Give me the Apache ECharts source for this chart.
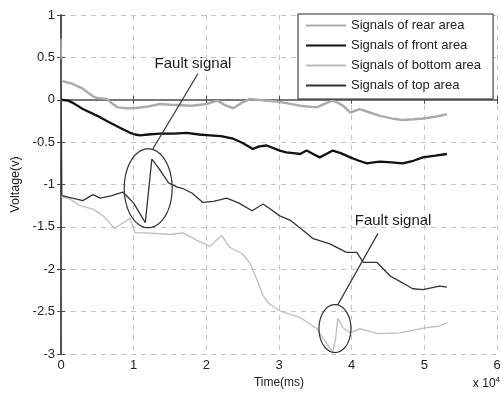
<!DOCTYPE html>
<html>
<head>
<meta charset="utf-8">
<script src="https://cdn.jsdelivr.net/npm/echarts@6/dist/echarts.min.js"></script>
<style>
  html, body { margin: 0; padding: 0; background: #fff; }
  #chart { width: 504px; height: 398px; }
</style>
</head>
<body>
<div id="chart"></div>
<script>
// signal traces, [time (x 10^4 ms), voltage]
const rearArea = [
  [0.02, 0.22], [0.15, 0.19], [0.3, 0.13], [0.44, 0.04], [0.5, 0.02], [0.63, 0.01], [0.7, -0.04],
  [0.78, -0.09], [0.9, -0.1], [1.0, -0.1], [1.2, -0.08], [1.36, -0.05], [1.5, -0.06], [1.8, -0.07],
  [2.0, -0.05], [2.15, -0.01], [2.25, -0.06], [2.37, -0.1], [2.5, -0.03], [2.6, 0.01], [2.8, -0.01],
  [2.97, -0.02], [3.1, -0.04], [3.29, -0.07], [3.52, -0.09], [3.65, -0.04], [3.74, -0.01], [3.82, -0.04],
  [3.88, -0.07], [3.98, -0.15], [4.11, -0.11], [4.25, -0.15], [4.39, -0.19], [4.55, -0.22], [4.7, -0.24],
  [4.85, -0.23], [4.98, -0.22], [5.15, -0.2], [5.31, -0.17]
]
const frontArea = [
  [0.0, 0.0], [0.02, 0.01], [0.1, -0.01], [0.17, -0.04], [0.3, -0.11], [0.5, -0.19], [0.65, -0.26],
  [0.81, -0.33], [0.95, -0.39], [1.02, -0.41], [1.09, -0.42], [1.2, -0.41], [1.36, -0.4], [1.55, -0.4],
  [1.73, -0.39], [1.9, -0.41], [2.05, -0.42], [2.2, -0.43], [2.37, -0.46], [2.5, -0.51], [2.64, -0.58],
  [2.73, -0.55], [2.83, -0.54], [2.95, -0.58], [3.01, -0.6], [3.1, -0.62], [3.2, -0.63], [3.29, -0.64],
  [3.38, -0.6], [3.47, -0.64], [3.56, -0.68], [3.65, -0.64], [3.74, -0.6], [3.85, -0.63], [3.98, -0.68],
  [4.1, -0.72], [4.21, -0.75], [4.3, -0.74], [4.39, -0.73], [4.55, -0.74], [4.7, -0.75], [4.85, -0.72],
  [4.98, -0.68], [5.15, -0.66], [5.31, -0.64]
]
const bottomArea = [
  [0, 0.72], [0.01, -1.15], [0.12, -1.17], [0.26, -1.25], [0.44, -1.29], [0.58, -1.37], [0.74, -1.52],
  [0.84, -1.46], [0.95, -1.4], [1.02, -1.57], [1.18, -1.57], [1.5, -1.59], [1.68, -1.57], [1.87, -1.66],
  [2.05, -1.73], [2.21, -1.6], [2.32, -1.74], [2.5, -1.82], [2.6, -1.93], [2.7, -2.13], [2.78, -2.31],
  [2.87, -2.41], [3.01, -2.49], [3.29, -2.57], [3.52, -2.7], [3.66, -2.88], [3.74, -2.98], [3.78, -2.81],
  [3.81, -2.58], [3.88, -2.69], [3.98, -2.75], [4.11, -2.7], [4.2, -2.72], [4.35, -2.76], [4.66, -2.75],
  [5.03, -2.69], [5.21, -2.67], [5.31, -2.63]
]
const topArea = [
  [0, 0.48], [0.01, -1.13], [0.1, -1.15], [0.3, -1.19], [0.44, -1.12], [0.54, -1.16], [0.7, -1.13],
  [0.85, -1.09], [0.9, -1.13], [1.0, -1.22], [1.09, -1.35], [1.16, -1.45], [1.25, -0.7], [1.34, -0.8],
  [1.48, -0.98], [1.6, -1.03], [1.68, -1.05], [1.8, -1.1], [1.95, -1.21], [2.1, -1.2], [2.28, -1.16],
  [2.45, -1.22], [2.63, -1.31], [2.78, -1.23], [2.9, -1.3], [3.01, -1.37], [3.15, -1.42], [3.33, -1.54],
  [3.47, -1.64], [3.7, -1.7], [3.93, -1.8], [4.07, -1.8], [4.16, -1.92], [4.35, -1.92], [4.53, -2.08],
  [4.7, -2.16], [4.84, -2.23], [4.98, -2.24], [5.21, -2.2], [5.31, -2.21]
]
const seriesNames = ['Signals of rear area', 'Signals of front area', 'Signals of bottom area', 'Signals of top area']

// 标注：椭圆 + 引线 + 文字 (data coords)
const faultMarks = [
  { cx: 1.2, cy: -1.044, rx: 0.33, ry: 0.466, from: [1.265, -0.578], to: [1.884, 0.307], label: [1.816, 0.425] },
  { cx: 3.77, cy: -2.7, rx: 0.22, ry: 0.283, from: [3.81, -2.417], to: [4.36, -1.58], label: [4.57, -1.427] }
]

const chart = echarts.init(document.getElementById('chart'))

const FONT = 'Liberation Sans, Arial, sans-serif'
const axisLine = { show: true, lineStyle: { color: '#4a4a4a', width: 1.5 } }
const splitLine = { show: true, lineStyle: { color: '#c4c4c4', type: [5, 5], width: 1 } }
const labelStyle = { color: '#222', fontSize: 13, fontFamily: FONT }

const mkSeries = (name, data, color, width) => ({
  name,
  type: 'line',
  data,
  symbol: 'none',
  lineStyle: { color, width },
  itemStyle: { color },
  z: 3
})

chart.setOption({
  animation: false,
  backgroundColor: '#fff',
  grid: { left: 61, right: 7, top: 15, bottom: 44 },
  legend: {
    orient: 'vertical',
    left: 298,
    top: 14,
    padding: [5, 12, 7, 7],
    itemWidth: 40,
    itemHeight: 12,
    itemGap: 7,
    itemStyle: { opacity: 0 },
    backgroundColor: '#fff',
    borderColor: '#222',
    borderWidth: 1,
    textStyle: { color: '#222', fontSize: 13, lineHeight: 12, fontFamily: FONT },
    data: seriesNames
  },
  xAxis: [
    {
      type: 'value', min: 0, max: 6, interval: 1,
      name: 'Time(ms)', nameLocation: 'middle', nameGap: 21,
      nameTextStyle: { ...labelStyle, fontSize: 12 },
      axisLine,
      axisTick: { show: true, inside: true, length: 4, lineStyle: { color: '#4a4a4a' } },
      axisLabel: { ...labelStyle, margin: 5 },
      splitLine
    },
    {
      type: 'value', min: 0, max: 6, interval: 1, position: 'top',
      axisLine: { show: true, lineStyle: { color: '#777', width: 1 } },
      axisTick: { show: true, inside: true, length: 4, lineStyle: { color: '#4a4a4a' } },
      axisLabel: { show: false },
      splitLine: { show: false }
    }
  ],
  yAxis: [
    {
      type: 'value', min: -3, max: 1, interval: 0.5,
      name: 'Voltage(v)', nameLocation: 'middle', nameGap: 37,
      nameTextStyle: { ...labelStyle, fontSize: 12.5 },
      axisLine,
      axisTick: { show: true, inside: true, length: 4, lineStyle: { color: '#4a4a4a' } },
      axisLabel: { ...labelStyle, margin: 6 },
      splitLine
    },
    {
      type: 'value', min: -3, max: 1, interval: 0.5, position: 'right',
      axisLine: { show: true, lineStyle: { color: '#4a4a4a', width: 1.5 } },
      axisTick: { show: true, inside: true, length: 4, lineStyle: { color: '#4a4a4a' } },
      axisLabel: { show: false },
      splitLine: { show: false }
    }
  ],
  series: [
    mkSeries(seriesNames[0], rearArea, '#ababab', 2.5),
    mkSeries(seriesNames[1], frontArea, '#111', 2.3),
    mkSeries(seriesNames[2], bottomArea, '#bdbdbd', 1.3),
    mkSeries(seriesNames[3], topArea, '#333', 1.3)
  ]
})

// 标注图形（按坐标换算像素）
const toPx = p => chart.convertToPixel({ gridIndex: 0 }, p)
const graphics = []
faultMarks.forEach(m => {
  const c = toPx([m.cx, m.cy])
  const rxPx = toPx([m.cx + m.rx, m.cy])[0] - c[0]
  const ryPx = c[1] - toPx([m.cx, m.cy + m.ry])[1]
  const pts = []
  for (let i = 0; i < 72; i++) {
    const a = (i / 72) * Math.PI * 2
    pts.push([c[0] + rxPx * Math.cos(a), c[1] + ryPx * Math.sin(a)])
  }
  graphics.push({
    type: 'polygon', shape: { points: pts }, z: 10,
    style: { fill: 'none', stroke: '#333', lineWidth: 1.2 }
  })
  const a = toPx(m.from)
  const b = toPx(m.to)
  graphics.push({
    type: 'line', shape: { x1: a[0], y1: a[1], x2: b[0], y2: b[1] }, z: 10,
    style: { stroke: '#333', lineWidth: 1.2 }
  })
  const t = toPx(m.label)
  graphics.push({
    type: 'text', x: t[0], y: t[1], z: 10,
    style: {
      text: 'Fault signal', fill: '#1a1a22', fontSize: 15,
      fontFamily: FONT, align: 'center', verticalAlign: 'middle'
    }
  })
})
graphics.push({
  type: 'text', right: 4, top: 376,
  style: {
    text: 'x 10{sup|4}', fill: '#222', fontSize: 12,
    fontFamily: FONT,
    rich: { sup: { fontSize: 8, verticalAlign: 'top', padding: [0, 0, 8, 0] } }
  }
})
chart.setOption({ graphic: graphics })
</script>
</body>
</html>
